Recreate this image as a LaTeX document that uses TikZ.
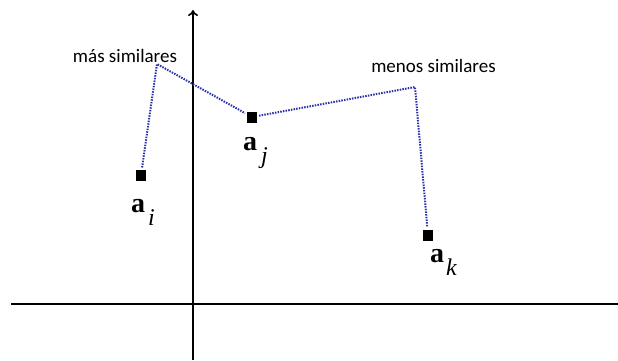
\documentclass[tikz,border=0pt]{standalone}
\usepackage{fontspec}
\usetikzlibrary{arrows.meta}
\newfontfamily\lblfont{Carlito}
\newfontfamily\tnrfont{Liberation Serif}
\definecolor{dotblue}{RGB}{40,50,170}
\tikzset{
  axis/.style={line width=1.8pt, black},
  pointbox/.style={draw=none, fill=black, minimum width=10pt, minimum height=11pt, inner sep=0pt, outer sep=2pt},
  simline/.style={dotblue, line width=2pt, dash pattern=on 1.5pt off 1.2pt},
  lbl/.style={font=\lblfont\fontsize{19}{19}\selectfont, inner sep=0pt, anchor=base},
  veclbl/.style={inner sep=0pt, anchor=base west, font=\tnrfont}
}
\newcommand{\veclab}[2]{\fontsize{28}{28}\selectfont\textbf{a}\hspace{#2}\raisebox{-13pt}{\fontsize{24}{24}\selectfont\itshape #1}}
\begin{document}
\begin{tikzpicture}[x=1pt,y=-1pt]
\useasboundingbox (0,0) rectangle (618,360);
% axes
\coordinate (yb) at (193,360);
\coordinate (yt) at (193,10);
\coordinate (xl) at (11,304);
\coordinate (xr) at (618,304);
\draw[axis] (xl) -- (xr);
\draw[axis, -{To[length=6pt,width=10pt,line width=1.6pt]}] (yb) -- (yt);
% points
\node[pointbox] (si) at (141,175) {};
\node[pointbox] (sj) at (252,117) {};
\node[pointbox] (sk) at (428,235) {};
% corners
\coordinate (p1) at (157,64);
\coordinate (p2) at (415,87);
\draw[simline] (si) -- (p1) -- (sj);
\draw[simline] (sj) -- (p2) -- (sk);
% labels
\node[lbl] (mas) at (125,62) {más similares};
\node[lbl] (menos) at (433.5,72) {menos similares};
\node[veclbl] (ai) at (131,212) {\veclab{i}{3pt}};
\node[veclbl] (aj) at (243,150) {\veclab{j}{4pt}};
\node[veclbl] (ak) at (430,262) {\veclab{k}{2pt}};
\end{tikzpicture}
\end{document}
